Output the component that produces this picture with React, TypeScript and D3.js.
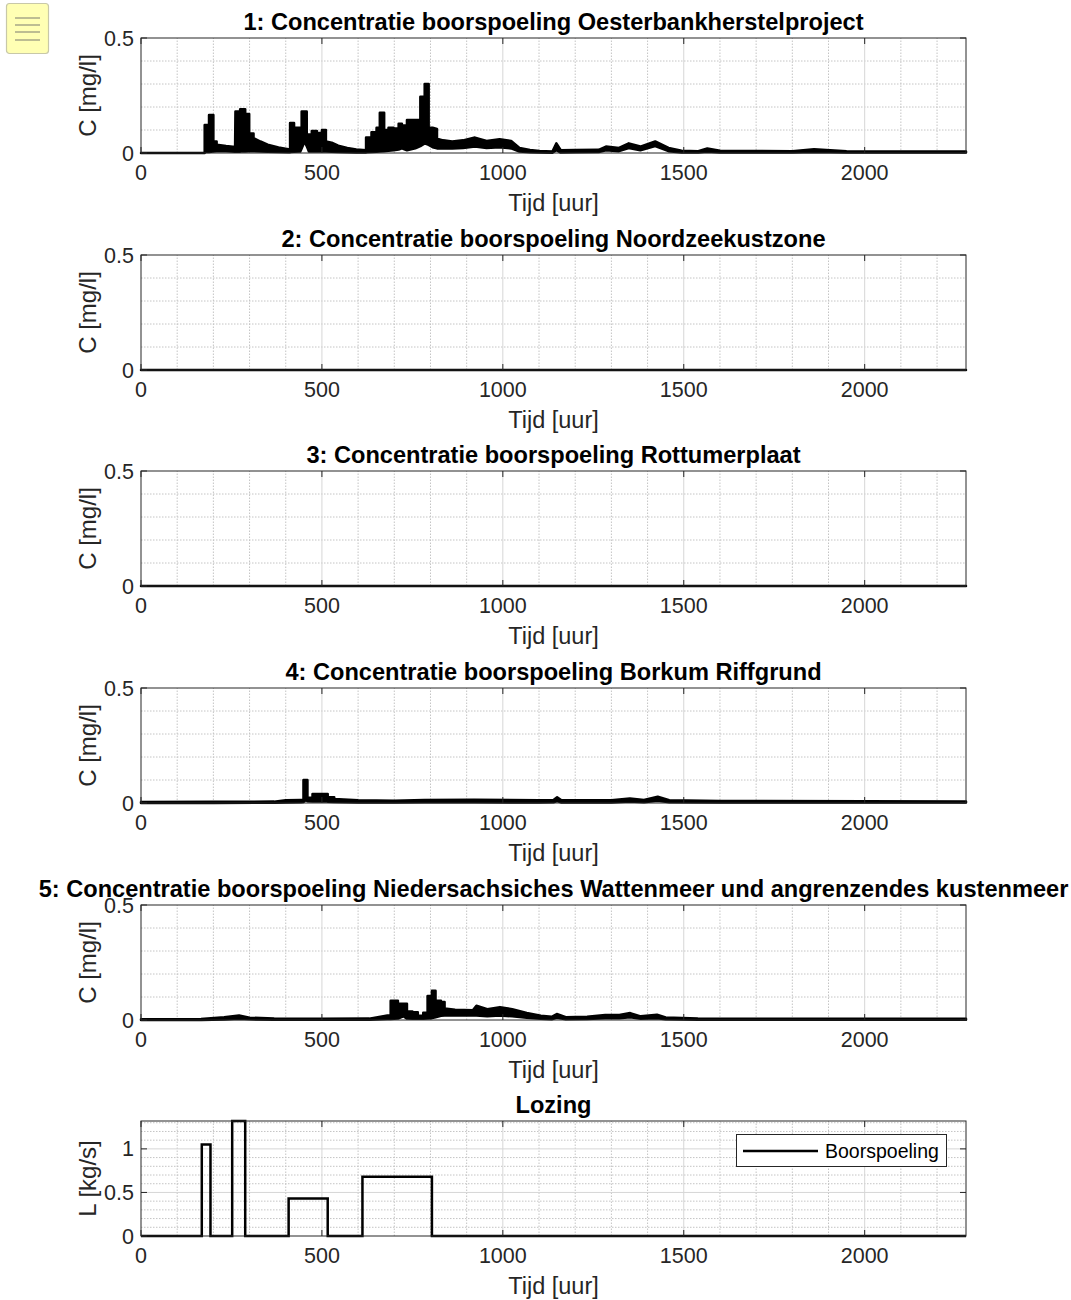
import React from "react";
import * as d3 from "d3";

type Pt = [number, number, number]; // [tijd, bovengrens, ondergrens]

const tMax = 2280;
const xTicks = [0, 500, 1000, 1500, 2000];
const cTicks = [0, 0.5];
const lTicks = [0, 0.5, 1];

const titles = [
  "1: Concentratie boorspoeling Oesterbankherstelproject",
  "2: Concentratie boorspoeling Noordzeekustzone",
  "3: Concentratie boorspoeling Rottumerplaat",
  "4: Concentratie boorspoeling Borkum Riffgrund",
  "5: Concentratie boorspoeling Niedersachsiches Wattenmeer und angrenzendes kustenmeer",
];

const oesterbank: Pt[] = [
  [0, 0, 0], [176, 0, 0], [176, 0.122, 0.004], [188, 0.122, 0.004], [188, 0.165, 0.004],
  [200, 0.165, 0.006], [200, 0.05, 0.006], [209, 0.05, 0.008], [209, 0.036, 0.008],
  [235, 0.03, 0.008], [260, 0.026, 0.005], [261, 0.18, 0.005], [274, 0.18, 0.005],
  [274, 0.19, 0.006], [288, 0.19, 0.006], [288, 0.17, 0.006], [299, 0.17, 0.008],
  [299, 0.085, 0.008], [311, 0.085, 0.008], [311, 0.065, 0.008], [330, 0.05, 0.007],
  [350, 0.036, 0.005], [380, 0.024, 0.004], [407, 0.016, 0.003], [412, 0.016, 0.003],
  [412, 0.13, 0.004], [423, 0.13, 0.005], [423, 0.11, 0.005], [440, 0.11, 0.006],
  [444, 0.11, 0.02], [444, 0.18, 0.02], [452, 0.18, 0.05], [458, 0.18, 0.03],
  [458, 0.08, 0.03], [464, 0.08, 0.006], [472, 0.08, 0.006], [472, 0.096, 0.006],
  [486, 0.096, 0.006], [486, 0.087, 0.006], [500, 0.087, 0.006], [500, 0.1, 0.006],
  [511, 0.1, 0.006], [511, 0.05, 0.006], [527, 0.045, 0.005], [545, 0.032, 0.004],
  [570, 0.022, 0.003], [595, 0.015, 0.002], [622, 0.012, 0.002], [622, 0.067, 0.003],
  [637, 0.067, 0.004], [637, 0.09, 0.004], [651, 0.09, 0.005], [651, 0.11, 0.005],
  [660, 0.11, 0.006], [660, 0.175, 0.006], [672, 0.175, 0.008], [672, 0.1, 0.008],
  [684, 0.1, 0.01], [684, 0.11, 0.01], [698, 0.11, 0.012], [698, 0.107, 0.012],
  [712, 0.107, 0.015], [712, 0.127, 0.015], [721, 0.127, 0.02], [721, 0.12, 0.02],
  [735, 0.12, 0.012], [735, 0.143, 0.012], [758, 0.143, 0.02], [772, 0.145, 0.03],
  [772, 0.245, 0.03], [784, 0.245, 0.042], [784, 0.3, 0.042], [795, 0.3, 0.035],
  [795, 0.11, 0.035], [806, 0.11, 0.025], [818, 0.105, 0.02], [818, 0.062, 0.02],
  [835, 0.055, 0.02], [860, 0.05, 0.02], [890, 0.055, 0.022], [923, 0.067, 0.028],
  [955, 0.052, 0.022], [991, 0.06, 0.025], [1023, 0.052, 0.02], [1046, 0.022, 0.006],
  [1075, 0.013, 0.003], [1101, 0.009, 0.002], [1137, 0.006, 0.001], [1148, 0.042, 0.012],
  [1160, 0.012, 0.002], [1200, 0.013, 0.003], [1265, 0.014, 0.004], [1285, 0.028, 0.012],
  [1321, 0.022, 0.008], [1348, 0.042, 0.022], [1380, 0.028, 0.012], [1421, 0.05, 0.03],
  [1458, 0.022, 0.008], [1494, 0.01, 0.002], [1540, 0.008, 0.002], [1565, 0.02, 0.005],
  [1600, 0.01, 0.002], [1800, 0.008, 0.002], [1860, 0.016, 0.004], [1950, 0.008, 0.002],
  [2280, 0.007, 0.002],
];

const noordzeekustzone: Pt[] = [[0, 0, 0], [2280, 0, 0]];
const rottumerplaat: Pt[] = [[0, 0, 0], [2280, 0, 0]];

const borkum: Pt[] = [
  [0, 0.004, 0], [200, 0.005, 0], [368, 0.006, 0.001], [400, 0.012, 0.002],
  [442, 0.013, 0.003], [449, 0.013, 0.004], [449, 0.1, 0.004], [455, 0.1, 0.012],
  [460, 0.1, 0.008], [460, 0.023, 0.008], [474, 0.023, 0.006], [474, 0.039, 0.006],
  [516, 0.039, 0.006], [516, 0.025, 0.005], [534, 0.025, 0.004], [534, 0.017, 0.004],
  [600, 0.012, 0.002], [700, 0.01, 0.002], [783, 0.013, 0.003], [921, 0.014, 0.003],
  [1100, 0.012, 0.002], [1140, 0.013, 0.003], [1150, 0.025, 0.008], [1162, 0.012, 0.002],
  [1300, 0.012, 0.002], [1351, 0.02, 0.006], [1390, 0.013, 0.003], [1428, 0.027, 0.01],
  [1460, 0.012, 0.003], [1600, 0.009, 0.002], [2000, 0.008, 0.002], [2280, 0.007, 0.002],
];

const niedersachsen: Pt[] = [
  [0, 0.003, 0], [166, 0.004, 0], [230, 0.012, 0.002], [271, 0.02, 0.005],
  [300, 0.01, 0.003], [368, 0.006, 0.001], [500, 0.005, 0.001], [631, 0.006, 0.001],
  [681, 0.02, 0.004], [690, 0.02, 0.004], [690, 0.084, 0.004], [710, 0.084, 0.006],
  [710, 0.071, 0.006], [725, 0.071, 0.016], [735, 0.071, 0.006], [735, 0.037, 0.006],
  [750, 0.037, 0.005], [750, 0.034, 0.005], [765, 0.034, 0.005], [765, 0.019, 0.005],
  [780, 0.019, 0.005], [780, 0.031, 0.005], [792, 0.031, 0.006], [792, 0.104, 0.006],
  [804, 0.104, 0.008], [804, 0.127, 0.008], [814, 0.127, 0.012], [814, 0.084, 0.012],
  [829, 0.084, 0.018], [829, 0.078, 0.018], [839, 0.078, 0.02], [839, 0.05, 0.02],
  [868, 0.045, 0.02], [917, 0.042, 0.02], [927, 0.062, 0.02], [957, 0.047, 0.016],
  [992, 0.056, 0.02], [1026, 0.047, 0.016], [1066, 0.031, 0.01], [1105, 0.019, 0.005],
  [1135, 0.014, 0.003], [1149, 0.026, 0.01], [1174, 0.012, 0.003], [1233, 0.014, 0.004],
  [1283, 0.022, 0.008], [1322, 0.022, 0.008], [1352, 0.03, 0.012], [1381, 0.016, 0.005],
  [1426, 0.023, 0.008], [1450, 0.011, 0.003], [1539, 0.006, 0.001], [1800, 0.005, 0.001],
  [2280, 0.005, 0.001],
];

const lozingTime = [0, 168, 192, 252, 288, 408, 516, 612, 804, 2280];
const lozingValue = [0, 1.05, 0, 1.32, 0, 0.43, 0, 0.68, 0, 0];
const legendLabel = "Boorspoeling";

const FONT = "'Liberation Sans', Arial, Helvetica, sans-serif";
const AX = "#262626";
const LEFT = 141;
const RIGHT = 966;
const H = 115;
const tops = [38, 255, 471, 688, 905, 1121];

const x = d3.scaleLinear().domain([0, tMax]).range([LEFT, RIGHT]);
const minorX = d3.range(100, tMax, 100);

function Grid({ y, minorY, majorY }: { y: d3.ScaleLinear<number, number>; minorY: number[]; majorY: number[] }) {
  const [y0, y1] = y.range();
  return (
    <g>
      {minorX.filter((t) => t % 500 !== 0).map((t) => (
        <line key={"mx" + t} x1={x(t)} x2={x(t)} y1={y0} y2={y1} stroke="#c4c4c4" strokeWidth={1} strokeDasharray="1.5,1.5" />
      ))}
      {minorY.map((v) => (
        <line key={"my" + v} x1={LEFT} x2={RIGHT} y1={y(v)} y2={y(v)} stroke="#c4c4c4" strokeWidth={1} strokeDasharray="1.5,1.5" />
      ))}
      {xTicks.filter((t) => t > 0).map((t) => (
        <line key={"Mx" + t} x1={x(t)} x2={x(t)} y1={y0} y2={y1} stroke="#d6d6d6" strokeWidth={1} />
      ))}
      {majorY.map((v) => (
        <line key={"My" + v} x1={LEFT} x2={RIGHT} y1={y(v)} y2={y(v)} stroke="#d6d6d6" strokeWidth={1} />
      ))}
    </g>
  );
}

function Axes({ y, yTicks, title, ylabel, top }: { y: d3.ScaleLinear<number, number>; yTicks: number[]; title: string; ylabel: string; top: number }) {
  const bottom = top + H;
  const fmt = (v: number) => String(v);
  return (
    <g fontFamily={FONT} fill={AX}>
      <rect x={LEFT} y={top} width={RIGHT - LEFT} height={H} fill="none" stroke={AX} strokeWidth={1} />
      {xTicks.map((t) => (
        <g key={"xt" + t}>
          <line x1={x(t)} x2={x(t)} y1={bottom} y2={bottom - 6} stroke={AX} />
          <line x1={x(t)} x2={x(t)} y1={top} y2={top + 6} stroke={AX} />
          <text x={x(t)} y={bottom + 27} textAnchor="middle" fontSize={21.5}>{fmt(t)}</text>
        </g>
      ))}
      {yTicks.map((v) => (
        <g key={"yt" + v}>
          <line x1={LEFT} x2={LEFT + 6} y1={y(v)} y2={y(v)} stroke={AX} />
          <line x1={RIGHT} x2={RIGHT - 6} y1={y(v)} y2={y(v)} stroke={AX} />
          <text x={LEFT - 7} y={y(v)} dy="0.35em" textAnchor="end" fontSize={21.5}>{fmt(v)}</text>
        </g>
      ))}
      <text x={(LEFT + RIGHT) / 2} y={bottom + 58} textAnchor="middle" fontSize={23.5}>Tijd [uur]</text>
      <text transform={`translate(96,${top + H / 2}) rotate(-90)`} textAnchor="middle" fontSize={24}>{ylabel}</text>
      <text x={(LEFT + RIGHT) / 2} y={top - 8} textAnchor="middle" fontSize={23.6} fontWeight="bold" fill="#000">{title}</text>
    </g>
  );
}

export default function App() {
  const series = [oesterbank, noordzeekustzone, rottumerplaat, borkum, niedersachsen];
  const lozTop = tops[5];
  const yL = d3.scaleLinear().domain([0, 1.32]).range([lozTop + H, lozTop]);
  const lozData = lozingTime.map((t, i) => [t, lozingValue[i]] as [number, number]);
  const lozLine = d3.line<[number, number]>().x((d) => x(d[0])).y((d) => yL(d[1])).curve(d3.curveStepAfter);

  return (
    <svg width={1071} height={1300} style={{ position: "absolute", left: 0, top: 0, background: "#fff" }}>
      <rect x={0} y={0} width={1071} height={1300} fill="#fff" />
      {/* note icon */}
      <g>
        <rect x={6.5} y={3.5} width={42} height={50} rx={3} fill="#ffffb4" stroke="#c8c8a8" strokeWidth={1.2} />
        {[18, 25, 32, 40].map((yy) => (
          <line key={yy} x1={15} x2={40} y1={yy} y2={yy} stroke="#9a9a80" strokeWidth={1.3} />
        ))}
      </g>
      {series.map((data, i) => {
        const top = tops[i];
        const y = d3.scaleLinear().domain([0, 0.5]).range([top + H, top]);
        const area = d3.area<Pt>().x((d) => x(d[0])).y0((d) => y(d[2])).y1((d) => y(d[1]));
        return (
          <g key={i}>
            <Grid y={y} minorY={[0.1, 0.2, 0.3, 0.4]} majorY={[]} />
            <path d={area(data) || ""} fill="#000" stroke="#000" strokeWidth={2.5} strokeLinejoin="round" />
            <Axes y={y} yTicks={cTicks} title={titles[i]} ylabel="C [mg/l]" top={top} />
          </g>
        );
      })}
      <g>
        <Grid y={yL} minorY={d3.range(1, 14).map((k) => k / 10).filter((v) => v !== 0.5 && v !== 1)} majorY={[0.5, 1]} />
        <path d={lozLine(lozData) || ""} fill="none" stroke="#000" strokeWidth={2.5} />
        <Axes y={yL} yTicks={lTicks} title="Lozing" ylabel="L [kg/s]" top={lozTop} />
        <g fontFamily={FONT}>
          <rect x={736.5} y={1134.5} width={210} height={32} fill="#fff" stroke={AX} strokeWidth={1} />
          <line x1={743} x2={818} y1={1151} y2={1151} stroke="#000" strokeWidth={2.5} />
          <text x={825} y={1151} dy="0.35em" fontSize={19.5} fill="#000">{legendLabel}</text>
        </g>
      </g>
    </svg>
  );
}
